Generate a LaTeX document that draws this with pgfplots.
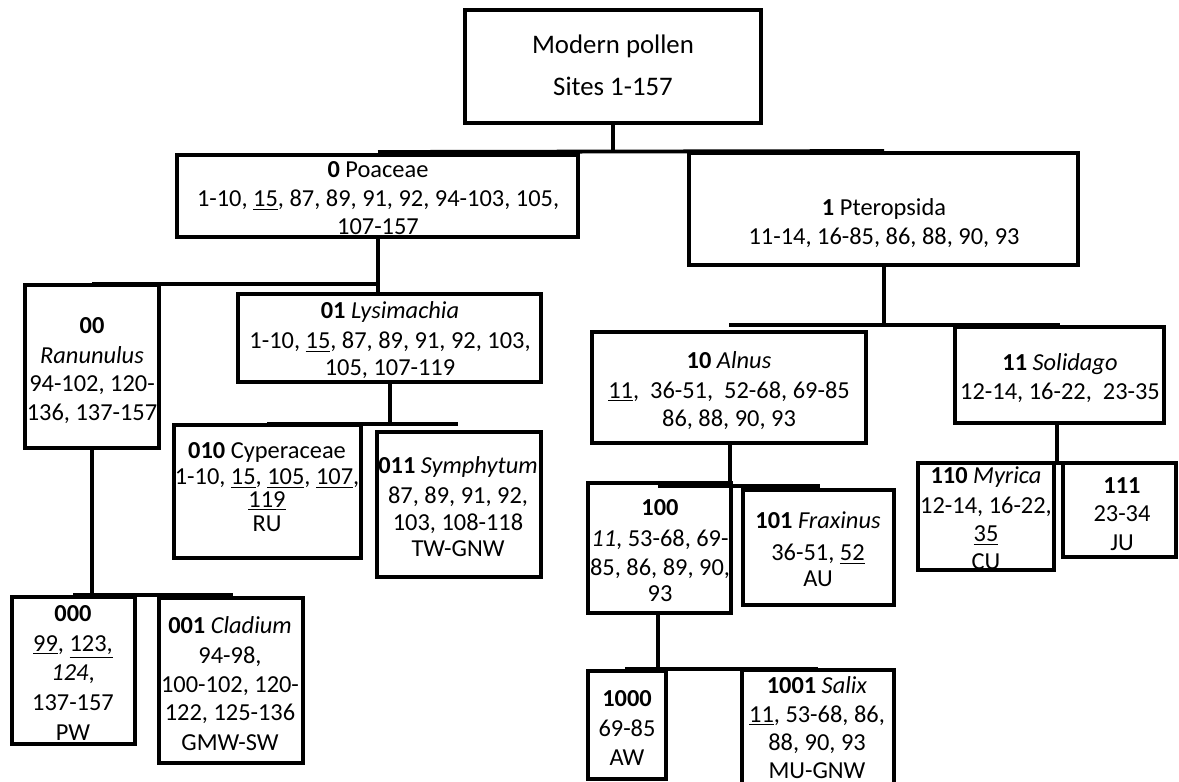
\documentclass[border=0pt]{standalone}
\usepackage{fontspec}
\setmainfont{Carlito}
\usepackage{pgfplots}
\pgfplotsset{compat=1.18}

\begin{document}
\begin{tikzpicture}
\tikzset{
  lbl/.style={anchor=base, inner sep=0pt, font=\fontsize{12.2}{14}\selectfont},
  ln/.style={black, solid, line width=1.9pt, line join=miter, mark=none},
}
\begin{axis}[
    width=589.5pt, height=391pt, scale only axis,
    xmin=0, xmax=1179, ymin=0, ymax=782, y dir=reverse,
    hide axis, clip=true,
]
% boxes (pixel coordinates, y downwards)
\addplot[ln] coordinates {(465,10) (761,10) (761,123) (465,123)} -- cycle;
\addplot[ln] coordinates {(177,155) (578,155) (578,237) (177,237)} -- cycle;
\addplot[ln] coordinates {(689,153) (1078,153) (1078,265) (689,265)} -- cycle;
\addplot[ln] coordinates {(25,285) (159,285) (159,448) (25,448)} -- cycle;
\addplot[ln] coordinates {(238,294) (541,294) (541,382) (238,382)} -- cycle;
\addplot[ln] coordinates {(592,332) (866,332) (866,443) (592,443)} -- cycle;
\addplot[ln] coordinates {(955,327) (1164,327) (1164,423) (955,423)} -- cycle;
\addplot[ln] coordinates {(174,425) (361,425) (361,558) (174,558)} -- cycle;
\addplot[ln] coordinates {(377,432) (541,432) (541,577) (377,577)} -- cycle;
\addplot[ln] coordinates {(588,483) (731,483) (731,613) (588,613)} -- cycle;
\addplot[ln] coordinates {(743,490) (894,490) (894,605) (743,605)} -- cycle;
\addplot[ln] coordinates {(918,463) (1054,463) (1054,570) (918,570)} -- cycle;
\addplot[ln] coordinates {(1063,463) (1176,463) (1176,557) (1063,557)} -- cycle;
\addplot[ln] coordinates {(12,597) (135,597) (135,744) (12,744)} -- cycle;
\addplot[ln] coordinates {(159,598) (303,598) (303,763) (159,763)} -- cycle;
\addplot[ln] coordinates {(588,671) (666,671) (666,779) (588,779)} -- cycle;
\addplot[ln] coordinates {(742,670) (894,670) (894,790) (742,790)} -- cycle;

% connectors
\addplot[ln] coordinates {(613,123) (613,152)};
\addplot[ln] coordinates {(378,152) (884,151)};
\addplot[ln] coordinates {(378,237) (378,294)};
\addplot[ln] coordinates {(92,284) (378,284)};
\addplot[ln] coordinates {(92,448) (92,595)};
\addplot[ln] coordinates {(73,595) (233,595)};
\addplot[ln] coordinates {(390,382) (390,425)};
\addplot[ln] coordinates {(267,424) (458,424)};
\addplot[ln] coordinates {(884,265) (884,325)};
\addplot[ln] coordinates {(729,325) (1060,325)};
\addplot[ln] coordinates {(730,443) (730,486)};
\addplot[ln] coordinates {(658,486) (820,486)};
\addplot[ln] coordinates {(1057,423) (1057,463)};
\addplot[ln] coordinates {(986,463) (1122,463)};
\addplot[ln] coordinates {(658,613) (658,669)};
\addplot[ln] coordinates {(625,669) (818,669)};

% labels
\node[lbl, font=\fontsize{13.4}{15}\selectfont] at (axis cs:613,53) {Modern pollen};
\node[lbl, font=\fontsize{13.4}{15}\selectfont] at (axis cs:613,95) {Sites 1-157};

\node[lbl] at (axis cs:378,177) {\textbf{0} Poaceae};
\node[lbl] at (axis cs:378,206) {1-10, \underline{15}, 87, 89, 91, 92, 94-103, 105,};
\node[lbl] at (axis cs:378,234) {107-157};

\node[lbl] at (axis cs:884,215) {\textbf{1} Pteropsida};
\node[lbl] at (axis cs:884,244) {11-14, 16-85, 86, 88, 90, 93};

\node[lbl] at (axis cs:92,333) {\textbf{00}};
\node[lbl] at (axis cs:92,363) {\textit{Ranunulus}};
\node[lbl] at (axis cs:92,391) {94-102, 120-};
\node[lbl] at (axis cs:92,420) {136, 137-157};

\node[lbl] at (axis cs:390,318) {\textbf{01} \textit{Lysimachia}};
\node[lbl] at (axis cs:390,348) {1-10, \underline{15}, 87, 89, 91, 92, 103,};
\node[lbl] at (axis cs:390,375) {105, 107-119};

\node[lbl] at (axis cs:729,368) {\textbf{10} \textit{Alnus}};
\node[lbl] at (axis cs:729,398) {\underline{11},\ \ 36-51,\ \ 52-68, 69-85};
\node[lbl] at (axis cs:729,426) {86, 88, 90, 93};

\node[lbl] at (axis cs:1060,370) {\textbf{11} \textit{Solidago}};
\node[lbl] at (axis cs:1060,399) {12-14, 16-22,\ \ 23-35};

\node[lbl] at (axis cs:267,458) {\textbf{010} Cyperaceae};
\node[lbl] at (axis cs:267,484) {1-10, \underline{15}, \underline{105}, \underline{107},};
\node[lbl] at (axis cs:267,507) {\underline{119}};
\node[lbl] at (axis cs:267,531) {RU};

\node[lbl] at (axis cs:458,473) {\textbf{011} \textit{Symphytum}};
\node[lbl] at (axis cs:458,503) {87, 89, 91, 92,};
\node[lbl] at (axis cs:458,530) {103, 108-118};
\node[lbl] at (axis cs:458,556) {TW-GNW};

\node[lbl] at (axis cs:660,515) {\textbf{100}};
\node[lbl] at (axis cs:660,546) {\textit{11}, 53-68, 69-};
\node[lbl] at (axis cs:660,575) {85, 86, 89, 90,};
\node[lbl] at (axis cs:660,601) {93};

\node[lbl] at (axis cs:818,528) {\textbf{101} \textit{Fraxinus}};
\node[lbl] at (axis cs:818,560) {36-51, \underline{52}};
\node[lbl] at (axis cs:818,586) {AU};

\node[lbl] at (axis cs:986,483) {\textbf{110} \textit{Myrica}};
\node[lbl] at (axis cs:986,513) {12-14, 16-22,};
\node[lbl] at (axis cs:986,541) {\underline{35}};
\node[lbl] at (axis cs:986,569) {CU};

\node[lbl] at (axis cs:1122,493) {\textbf{111}};
\node[lbl] at (axis cs:1122,521) {23-34};
\node[lbl] at (axis cs:1122,550) {JU};

\node[lbl] at (axis cs:73,621) {\textbf{000}};
\node[lbl] at (axis cs:73,651) {\underline{99}, \underline{123,}};
\node[lbl] at (axis cs:73,680) {\textit{124},};
\node[lbl] at (axis cs:73,710) {137-157};
\node[lbl] at (axis cs:73,740) {PW};

\node[lbl] at (axis cs:230,633) {\textbf{001} \textit{Cladium}};
\node[lbl] at (axis cs:230,663) {94-98,};
\node[lbl] at (axis cs:230,692) {100-102, 120-};
\node[lbl] at (axis cs:230,720) {122, 125-136};
\node[lbl] at (axis cs:230,750) {GMW-SW};

\node[lbl] at (axis cs:627,706) {\textbf{1000}};
\node[lbl] at (axis cs:627,736) {69-85};
\node[lbl] at (axis cs:627,765) {AW};

\node[lbl] at (axis cs:817,693) {\textbf{1001} \textit{Salix}};
\node[lbl] at (axis cs:817,722) {\underline{11}, 53-68, 86,};
\node[lbl] at (axis cs:817,750) {88, 90, 93};
\node[lbl] at (axis cs:817,778) {MU-GNW};
\end{axis}
\pgfresetboundingbox
\path (current axis.south west) rectangle (current axis.north east);
\end{tikzpicture}
\end{document}
